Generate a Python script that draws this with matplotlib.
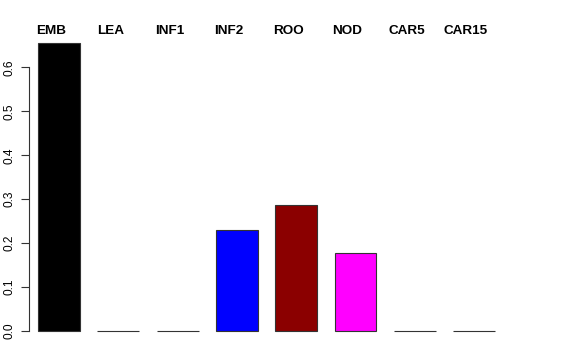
import matplotlib
matplotlib.use('Agg')
import matplotlib.pyplot as plt

# tissue proportions
tissues = ['EMB', 'LEA', 'INF1', 'INF2', 'ROO', 'NOD', 'CAR5', 'CAR15']
values = [0.655, 0.0, 0.0, 0.229, 0.287, 0.178, 0.0, 0.0]
colors = ['black', 'green', 'red', 'blue', '#8B0000', 'magenta', 'orange', 'purple']
yticks = [0.0, 0.1, 0.2, 0.3, 0.4, 0.5, 0.6]

plt.rcParams['font.family'] = ['Liberation Sans', 'DejaVu Sans']

fig = plt.figure(figsize=(5.76, 3.6), dpi=100)
W, H = 576, 360
# axes placed in pixel coords
left, right, bottom, top = 29, 513, 342.5, 32
ax = fig.add_axes([left / W, 1 - bottom / H, (right - left) / W, (bottom - top) / H])

x = list(range(len(tissues)))
ax.bar(x, values, width=0.708, color=colors, edgecolor='#333333', linewidth=0.8)

ax.set_xlim(-0.506, 7.656)
ax.set_ylim(-0.0262, 0.6807)

for s in ['top', 'right', 'bottom']:
    ax.spines[s].set_visible(False)
ax.spines['left'].set_bounds(0, 0.6)
ax.spines['left'].set_linewidth(0.8)
ax.spines['left'].set_color('#333333')
ax.set_xticks([])
ax.set_yticks(yticks)
ax.set_yticklabels(['%.1f' % v for v in yticks], rotation=90, va='center', fontsize=8.6)
ax.tick_params(axis='y', length=5.8, width=0.8, pad=4, color='#333333')

# bold names above the bars
for xi, name in zip(x, tissues):
    ax.text(xi - 0.135, 0.6807 + 1 / 440, name, ha='center', va='center',
            fontsize=9.7, fontweight='bold')

fig.savefig('out.png', dpi=100)
